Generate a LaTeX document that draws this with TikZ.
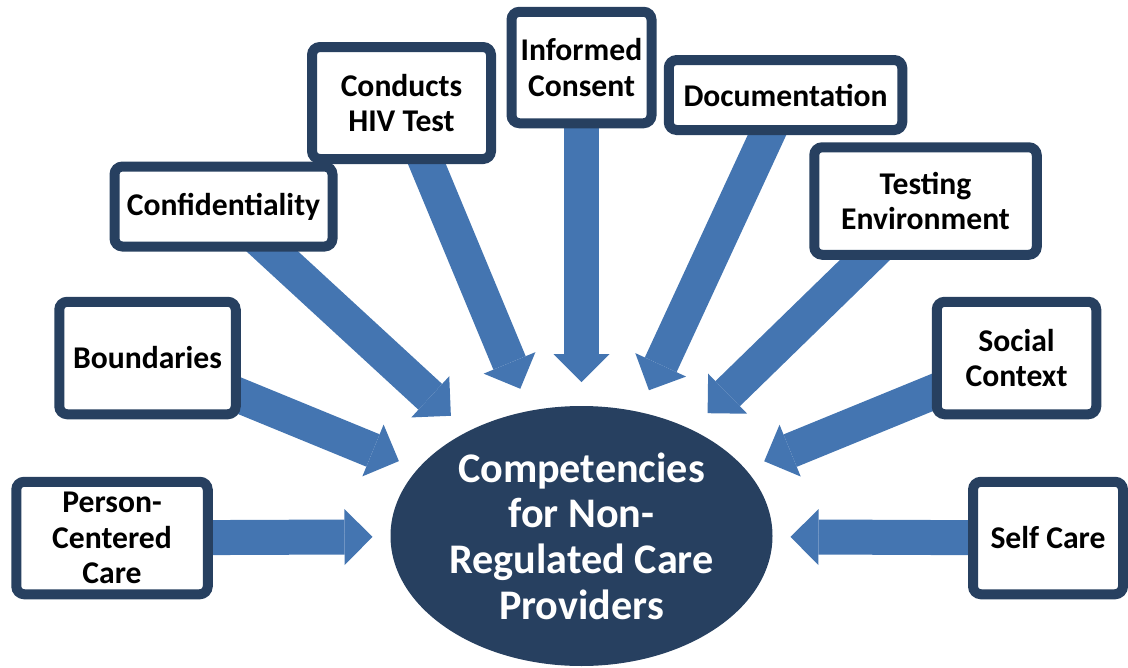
\documentclass[tikz,border=0pt]{standalone}
\usepackage{fontspec}
\setmainfont{Carlito}
\usetikzlibrary{shapes.geometric, arrows.meta, backgrounds}

\definecolor{navy}{RGB}{39,64,96}
\definecolor{steel}{RGB}{68,117,177}

\begin{document}
\begin{tikzpicture}[
	box/.style={draw=navy, line width=0.2cm, rounded corners=0.16cm, fill=white,
		align=center, inner sep=0pt, font=\bfseries\fontsize{18}{20}\selectfont},
	core/.style={ellipse, fill=navy, text=white, align=center, inner sep=0pt,
		font=\bfseries\fontsize{24}{26}\selectfont,
		minimum width=7.64cm, minimum height=5.2cm, outer xsep=0.36cm, outer ysep=0.48cm},% outer sep = where the tips stop
	feed/.style={color=steel, line width=0.7cm,
		-{Triangle[length=0.56cm, width=1.12cm, line width=0pt]}}]

\useasboundingbox (0, 0) rectangle (22.56, -13.36);

% El centre
\node [core] (core) at (11.63, -10.72) {Competencies\\for Non-\\Regulated Care\\Providers};
%%%%%%%%%%%%%%%%%%%%%%%%%%%%%%%%%%%%%%%%%%%%%%%%%%%%%%%%%%%%%%%%%%%%%%%%%%%%%%%%
% Esquerra
\node [box, minimum width=3.83cm, minimum height=2.25cm] (pcc)		at (2.24, -10.76)	{Person-\\Centered\\Care};
\node [box, minimum width=3.53cm, minimum height=2.25cm] (bound)	at (2.95, -7.16)	{Boundaries};
\node [box, minimum width=4.36cm, minimum height=1.6cm]  (conf)		at (4.47, -4.13)	{Confidentiality};
\node [box, minimum width=3.58cm, minimum height=2.24cm] (hiv)		at (8.03, -2.06)	{Conducts\\HIV Test};
%%%%%%%%%%%%%%%%%%%%%%%%%%%%%%%%%%%%%%%%%%%%%%%%%%%%%%%%%%%%%%%%%%%%%%%%%%%%%%%%
% Dalt
\node [box, minimum width=2.8cm,  minimum height=2.23cm] (consent)	at (11.63, -1.35)	{Informed\\Consent};
%%%%%%%%%%%%%%%%%%%%%%%%%%%%%%%%%%%%%%%%%%%%%%%%%%%%%%%%%%%%%%%%%%%%%%%%%%%%%%%%
% Dreta
\node [box, minimum width=4.67cm, minimum height=1.4cm]  (docu)		at (15.71, -1.9)	{Documentation};
\node [box, minimum width=4.45cm, minimum height=2.15cm] (env)		at (18.51, -4.02)	{Testing\\Environment};
\node [box, minimum width=3.19cm, minimum height=2.25cm] (social)	at (20.33, -7.16)	{Social\\Context};
\node [box, minimum width=3.0cm,  minimum height=2.25cm] (self)		at (20.96, -10.76)	{Self Care};

%%%%%%%%%%%%%%%%%%%%%%%%%%%%%%%%%%%%%%%%%%%%%%%%%%%%%%%%%%%%%%%%%%%%%%%%%%%%%%%%
% Fletxes
%%%%%%%%%%%%%%%%%%%%%%%%%%%%%%%%%%%%%%%%%%%%%%%%%%%%%%%%%%%%%%%%%%%%%%%%%%%%%%%%
\begin{pgfonlayer}{background}
\draw [feed]
	(pcc.center)		edge (core)
	(bound.center)		edge (core)
	(conf.center)		edge (core)
	(hiv.center)		edge (core)

	(consent.center)	edge (core)

	(docu.center)		edge (core)
	(env.center)		edge (core)
	(social.center)		edge (core)
	(self.center)		edge (core);
\end{pgfonlayer}

\end{tikzpicture}
\end{document}
